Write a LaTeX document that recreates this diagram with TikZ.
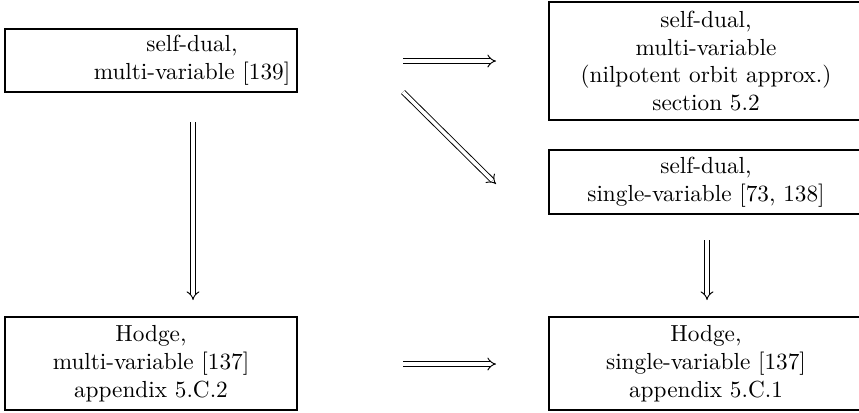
\documentclass[tikz,border=0pt]{standalone}
\usetikzlibrary{arrows}
\begin{document}
\begin{tikzpicture}[x=0.43pt,y=-0.43pt,
  box/.style={draw, line width=0.5pt, inner sep=0pt, align=center,
    font=\fontsize{10}{12}\selectfont},
  txt/.style={inner sep=0pt, align=center, font=\fontsize{10}{12}\selectfont},
  imp/.style={double equal sign distance, -implies, line width=0.4pt}]
\useasboundingbox (0,0) rectangle (859,412);
\clip (0,0) rectangle (859,412);
\node[box, minimum width=125.56pt, minimum height=27.09pt] (A) at (151,60.5) {};
\node[txt] (At) at (192,60.5) {self-dual,\\ multi-variable [139]};
\node[box, minimum width=135pt, minimum height=50.74pt] (B) at (706,61)
  {self-dual,\\ multi-variable\\ (nilpotent orbit approx.)\\ section 5.2};
\node[box, minimum width=135pt, minimum height=27.52pt] (C) at (706,182)
  {self-dual,\\ single-variable [73, 138]};
\node[box, minimum width=125.56pt, minimum height=40pt] (D) at (151,363.5)
  {Hodge,\\ multi-variable [137]\\ appendix 5.C.2};
\node[box, minimum width=135pt, minimum height=40pt] (E) at (706,363.5)
  {Hodge,\\ single-variable [137]\\ appendix 5.C.1};
\coordinate (t1) at (403,61);  \coordinate (t2) at (496,61);
\coordinate (d1) at (403,92);  \coordinate (d2) at (496,184);
\coordinate (l1) at (193,122); \coordinate (l2) at (193,300);
\coordinate (r1) at (707,240); \coordinate (r2) at (707,300);
\coordinate (b1) at (403,364); \coordinate (b2) at (496,364);
\draw[imp] (t1) -- (t2);
\draw[imp] (d1) -- (d2);
\draw[imp] (l1) -- (l2);
\draw[imp] (r1) -- (r2);
\draw[imp] (b1) -- (b2);
\end{tikzpicture}
\end{document}
